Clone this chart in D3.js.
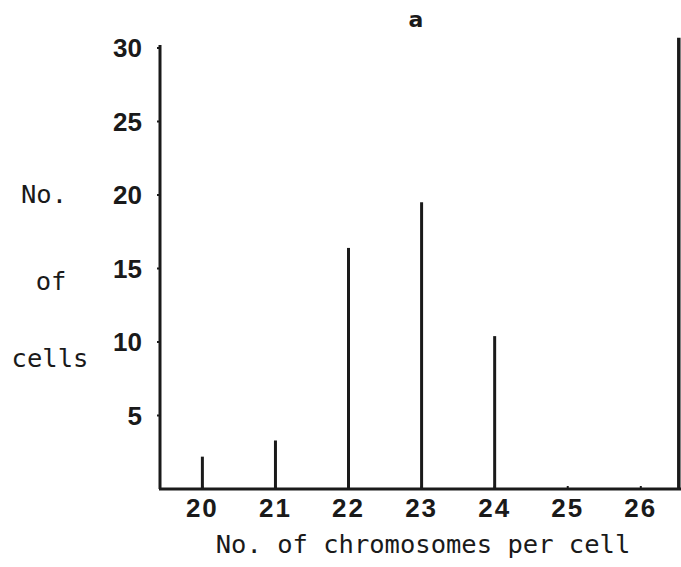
<!DOCTYPE html>
<html>
<head>
<meta charset="utf-8">
<script src="https://cdn.jsdelivr.net/npm/d3@7"></script>
<style>
  body { margin: 0; background: #fff; }
  .tick-label { font-family: "Liberation Sans Narrow", "Liberation Sans", sans-serif; font-weight: bold; font-size: 26px; fill: #1a1a1a; }
  .mono { font-family: "DejaVu Sans Mono", "Liberation Mono", monospace; font-size: 25.5px; fill: #1a1a1a; }
</style>
</head>
<body>
<svg class="chart"></svg>
<script>
// Chromosome counts and number of cells
var chromosomes = [20, 21, 22, 23, 24, 25, 26];
var cells = [2.2, 3.3, 16.4, 19.5, 10.4, 0, 0];
var yTicks = [5, 10, 15, 20, 25, 30];
var yLabelLines = ["No.", "of", "cells"];
var xTitle = "No. of chromosomes per cell";
var panelLabel = "a";

const width = 681, height = 567;

var svg = d3.select(".chart")
    .attr("width", width)
    .attr("height", height);

// scales fitted to the scanned figure
var x = d3.scaleLinear()
    .domain([19.42, 26.55])
    .range([160, 681]);

var y = d3.scaleLinear()
    .domain([0, 30])
    .range([489, 48]);

var ink = "#1a1a1a";

// y axis line
svg.append("line")
    .attr("x1", x(19.42)).attr("x2", x(19.42))
    .attr("y1", y(0)).attr("y2", y(30.2))
    .attr("stroke", ink).attr("stroke-width", 3);

// x axis line
svg.append("line")
    .attr("x1", x(19.42) - 1).attr("x2", width)
    .attr("y1", y(0)).attr("y2", y(0))
    .attr("stroke", ink).attr("stroke-width", 3);

// right edge line of the panel
svg.append("line")
    .attr("x1", x(26.52)).attr("x2", x(26.52))
    .attr("y1", y(0) + 1).attr("y2", y(30.7))
    .attr("stroke", ink).attr("stroke-width", 3.5);

// y ticks + labels
var yg = svg.append("g");
yg.selectAll(".ytick")
    .data(yTicks).enter()
    .append("line")
    .attr("x1", x(19.42) - 3).attr("x2", x(19.42))
    .attr("y1", d => y(d)).attr("y2", d => y(d))
    .attr("stroke", ink).attr("stroke-width", 2);

yg.selectAll(".ylab")
    .data(yTicks).enter()
    .append("text")
    .attr("class", "tick-label")
    .attr("x", 142)
    .attr("y", d => y(d) + 9)
    .attr("text-anchor", "end")
    .text(d => d);

// x tick labels
svg.selectAll(".xlab")
    .data(chromosomes).enter()
    .append("text")
    .attr("class", "tick-label")
    .attr("x", d => x(d))
    .attr("y", y(0) + 28)
    .attr("text-anchor", "middle")
    .style("letter-spacing", "2px")
    .text(d => d);

// small tick marks on x axis
svg.selectAll(".xtick")
    .data(chromosomes).enter()
    .append("line")
    .attr("x1", d => x(d)).attr("x2", d => x(d))
    .attr("y1", y(0)).attr("y2", y(0) - 3)
    .attr("stroke", ink).attr("stroke-width", 2);

// bars drawn as thin vertical lines
svg.selectAll(".bar")
    .data(chromosomes.map((c, i) => [c, cells[i]]).filter(d => d[1] > 0)).enter()
    .append("line")
    .attr("class", "bar")
    .attr("x1", d => x(d[0])).attr("x2", d => x(d[0]))
    .attr("y1", y(0)).attr("y2", d => y(d[1]))
    .attr("stroke", ink).attr("stroke-width", 3);

// axis titles
svg.append("text")
    .attr("class", "mono")
    .attr("x", 423)
    .attr("y", 553)
    .attr("text-anchor", "middle")
    .text(xTitle);

var yLabX = [44, 51, 50];
var yLabY = [203, 290, 367];
svg.selectAll(".ylabline")
    .data(yLabelLines).enter()
    .append("text")
    .attr("class", "mono")
    .attr("x", (d, i) => yLabX[i])
    .attr("y", (d, i) => yLabY[i])
    .attr("text-anchor", "middle")
    .text(d => d);

// panel letter
svg.append("text")
    .attr("x", 416)
    .attr("y", 27)
    .attr("text-anchor", "middle")
    .style("font-family", "DejaVu Sans, sans-serif")
    .style("font-weight", "bold")
    .style("font-size", "22px")
    .attr("fill", ink)
    .text(panelLabel);
</script>
</body>
</html>
